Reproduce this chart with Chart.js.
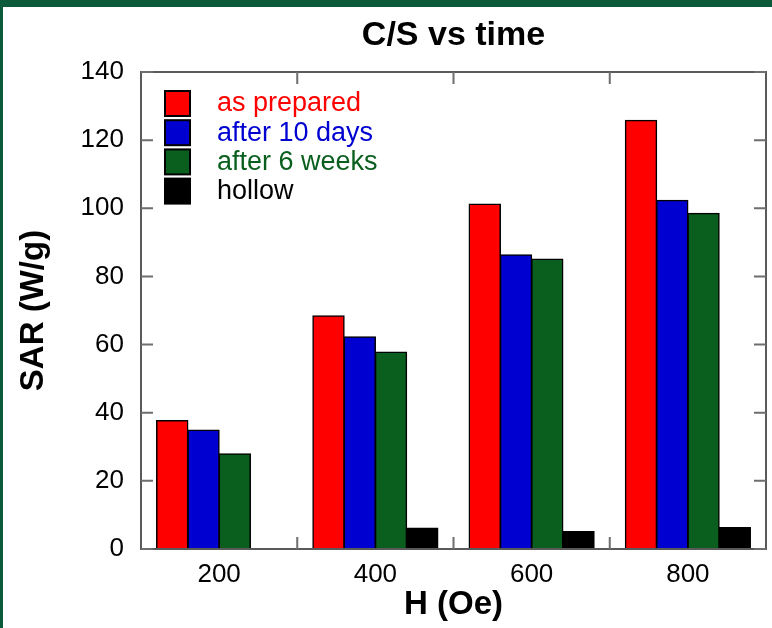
<!DOCTYPE html>
<html>
<head>
<meta charset="utf-8">
<script src="https://cdn.jsdelivr.net/npm/chart.js@4"></script>
<style>
  body { margin: 0; background: #0b5a3a; width: 772px; height: 628px; overflow: hidden; }
  #wrap { position: absolute; left: 3px; top: 7px; width: 769px; height: 621px; background: #fff; }
</style>
</head>
<body>
<div id="wrap"><canvas id="myChart" width="769" height="621"></canvas></div>
<script>
// data
const fields = ['200', '400', '600', '800']
const asPrepared = [37.7, 68.4, 101.2, 125.8]
const after10Days = [34.9, 62.3, 86.3, 102.3]
const after6Weeks = [27.9, 57.8, 85.1, 98.5]
const hollow = [null, 6.1, 5.1, 6.3]
const yTicks = [0, 20, 40, 60, 80, 100, 120, 140]

const seriesNames = ['as prepared', 'after 10 days', 'after 6 weeks', 'hollow']
const seriesColors = ['#ff0000', '#0000d0', '#0a5f1e', '#000000']

const fontFamily = '"Liberation Sans", Arial, Helvetica, sans-serif'

// frame, inward ticks, title and legend drawn on top of the chart area
const framePlugin = {
    id: 'frame',
    afterDatasetsDraw(chart) {
        const { ctx, chartArea: area, scales } = chart
        const x = scales.x, y = scales.y
        ctx.save()
        ctx.strokeStyle = '#5a5a5a'
        ctx.lineWidth = 2
        ctx.strokeRect(area.left, area.top, area.right - area.left, area.bottom - area.top)

        ctx.strokeStyle = '#6e6e6e'
        ctx.beginPath()
        yTicks.forEach((v) => {
            const py = y.getPixelForValue(v)
            ctx.moveTo(area.left, py)
            ctx.lineTo(area.left + 12, py)
            ctx.moveTo(area.right, py)
            ctx.lineTo(area.right - 12, py)
        })
        for (let i = 1; i < fields.length; i++) {
            const px = (x.getPixelForValue(i - 1) + x.getPixelForValue(i)) / 2
            ctx.moveTo(px, area.bottom)
            ctx.lineTo(px, area.bottom - 12)
            ctx.moveTo(px, area.top)
            ctx.lineTo(px, area.top + 12)
        }
        ctx.stroke()

        // title
        ctx.fillStyle = '#000'
        ctx.font = 'bold 34px ' + fontFamily
        ctx.textAlign = 'center'
        ctx.textBaseline = 'middle'
        ctx.fillText('C/S vs time', (area.left + area.right) / 2, 29)

        // legend
        ctx.textAlign = 'left'
        ctx.font = '27px ' + fontFamily
        chart.data.datasets.forEach((ds, i) => {
            const bx = area.left + 24
            const by = area.top + 19 + i * 29.2
            ctx.fillStyle = ds.backgroundColor
            ctx.fillRect(bx, by, 25, 25)
            ctx.lineWidth = 2
            ctx.strokeStyle = '#000'
            ctx.strokeRect(bx, by, 25, 25)
            ctx.fillStyle = ds.backgroundColor
            ctx.fillText(ds.label, area.left + 76, by + 13)
        })
        ctx.restore()
    }
}

const ctx = document.getElementById('myChart')

const datasets = [asPrepared, after10Days, after6Weeks, hollow].map((values, i) => {
    return {
        label: seriesNames[i],
        data: values,
        backgroundColor: seriesColors[i],
        borderColor: '#000',
        borderWidth: 1.5,
        borderSkipped: 'start',
        inflateAmount: 0.6,
        barPercentage: 1,
        categoryPercentage: 0.8,
    }
})

const myChart = new Chart(ctx, {
    type: 'bar',
    data: {
        labels: fields,
        datasets: datasets,
    },
    options: {
        responsive: false,
        animation: false,
        layout: {
            padding: { top: 65, right: 6, left: 0, bottom: 0 },
        },
        plugins: {
            legend: { display: false },
            tooltip: { enabled: false },
        },
        scales: {
            x: {
                grid: { display: false, drawTicks: false },
                border: { display: false },
                ticks: {
                    color: '#000',
                    padding: 10,
                    font: { family: fontFamily, size: 26 },
                },
                title: {
                    display: true,
                    text: 'H (Oe)',
                    color: '#000',
                    padding: { top: 0, bottom: 3 },
                    font: { family: fontFamily, size: 33, weight: 'bold' },
                },
                afterFit: (scale) => { scale.height = 79 },
            },
            y: {
                min: 0,
                max: 140,
                grid: { display: false, drawTicks: false },
                border: { display: false },
                ticks: {
                    stepSize: 20,
                    color: '#000',
                    padding: 17,
                    font: { family: fontFamily, size: 26 },
                },
                title: {
                    display: true,
                    text: 'SAR (W/g)',
                    color: '#000',
                    padding: { top: 11, bottom: 0 },
                    font: { family: fontFamily, size: 33, weight: 'bold' },
                },
                afterFit: (scale) => { scale.width = 138 },
            },
        },
    },
    plugins: [framePlugin],
})
</script>
</body>
</html>
